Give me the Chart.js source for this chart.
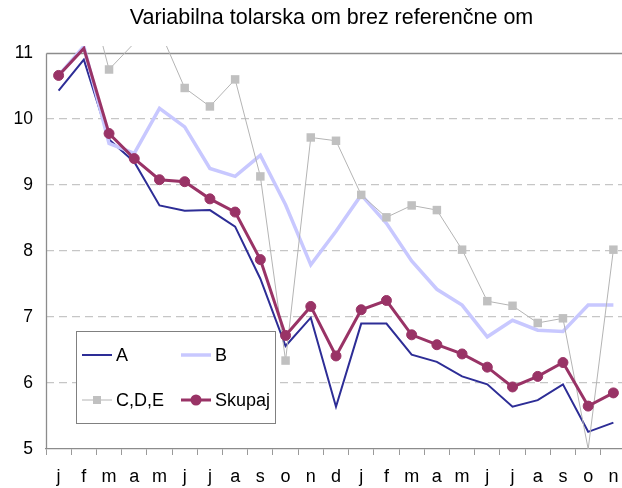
<!DOCTYPE html>
<html>
<head>
<meta charset="utf-8">
<script src="https://cdn.jsdelivr.net/npm/chart.js@4.4.1/dist/chart.umd.min.js"></script>
<style>
  html, body { margin: 0; padding: 0; background: #fff; overflow: hidden; }
  #wrap { position: relative; width: 632px; height: 488px; }
  #title {
    position: absolute; left: 0; top: 5px; width: 663px; text-align: center;
    font: 21.5px "Liberation Sans", Arial, sans-serif; color: #000; white-space: nowrap;
  }
</style>
</head>
<body>
<div id="wrap">
  <div id="title">Variabilna tolarska om brez referenčne om</div>
  <canvas id="chart" width="632" height="488"></canvas>
</div>
<script>
const FONT = '"Liberation Sans", Arial, sans-serif';

// months, two years: jan ... nov of the next year
const months = ["j","f","m","a","m","j","j","a","s","o","n","d","j","f","m","a","m","j","j","a","s","o","n"];
const yTicks = [5, 6, 7, 8, 9, 10, 11];

const serieA   = [10.43, 10.90, 9.69, 9.35, 8.69, 8.61, 8.62, 8.37, 7.58, 6.56, 6.99, 5.64, 6.90, 6.90, 6.43, 6.32, 6.10, 5.98, 5.64, 5.74, 5.98, 5.26, 5.40];
const serieB   = [10.66, 11.10, 9.63, 9.48, 10.16, 9.88, 9.25, 9.13, 9.45, 8.70, 7.79, 8.30, 8.85, 8.42, 7.85, 7.42, 7.18, 6.70, 6.95, 6.80, 6.78, 7.18, 7.18];
const serieCDE = [11.80, 12.22, 10.75, 11.15, 11.35, 10.47, 10.19, 10.60, 9.13, 6.34, 9.72, 9.67, 8.85, 8.51, 8.69, 8.62, 8.02, 7.24, 7.17, 6.91, 6.98, 5.00, 8.02];
const skupaj   = [10.66, 11.07, 9.78, 9.40, 9.08, 9.05, 8.79, 8.59, 7.87, 6.72, 7.16, 6.41, 7.11, 7.25, 6.73, 6.58, 6.44, 6.24, 5.94, 6.10, 6.31, 5.65, 5.85];

const Y_MIN = 5, Y_MAX = 11, Y_TOP = 11.106;

// markers only for values inside the axis range
const markerSize = r => ctx => (ctx.raw > Y_MAX || ctx.raw <= Y_MIN) ? 0 : r;

// solid frame line at 11 plus the left axis line
const frame = {
  id: 'frame',
  beforeDatasetsDraw(chart) {
    const { ctx, chartArea, scales: { y } } = chart;
    const top = Math.round(y.getPixelForValue(Y_MAX)) + 0.5;
    const left = Math.round(chartArea.left) + 0.5;
    ctx.save();
    ctx.strokeStyle = '#8c8c8c';
    ctx.lineWidth = 1.3;
    ctx.beginPath();
    ctx.moveTo(left, top);
    ctx.lineTo(chart.width, top);
    ctx.moveTo(left, top);
    ctx.lineTo(left, chartArea.bottom);
    ctx.stroke();
    ctx.restore();
  }
};

// boxed legend, two columns, inside the plot
const legendBox = {
  id: 'legendBox',
  afterDatasetsDraw(chart) {
    const ctx = chart.ctx;
    const cells = [[82, 355], [181, 355], [82, 400], [181, 400]];
    ctx.save();
    ctx.fillStyle = '#fff';
    ctx.fillRect(76, 331, 199, 92);
    ctx.strokeStyle = '#808080';
    ctx.lineWidth = 1;
    ctx.strokeRect(76.5, 331.5, 199, 92);
    chart.data.datasets.forEach((ds, i) => {
      const [x, y] = cells[i];
      ctx.strokeStyle = ds.borderColor;
      ctx.lineWidth = ds.borderWidth;
      ctx.beginPath();
      ctx.moveTo(x, y);
      ctx.lineTo(x + 30, y);
      ctx.stroke();
      ctx.fillStyle = ds.pointBackgroundColor;
      if (ds.pointStyle === 'rect') {
        ctx.fillRect(x + 11, y - 4, 8, 8);
      } else if (ds.pointStyle === 'circle') {
        ctx.beginPath();
        ctx.arc(x + 15, y, 5.5, 0, Math.PI * 2);
        ctx.fill();
      }
      ctx.fillStyle = '#000';
      ctx.font = '18px ' + FONT;
      ctx.textBaseline = 'middle';
      ctx.fillText(ds.label, x + 34, y + 1);
    });
    ctx.restore();
  }
};

new Chart(document.getElementById('chart'), {
  type: 'line',
  data: {
    labels: months,
    datasets: [{
      label: 'A',
      data: serieA,
      borderColor: '#2d2d96',
      borderWidth: 2,
      pointRadius: 0,
      order: 3
    }, {
      label: 'B',
      data: serieB,
      borderColor: '#c8c8ff',
      borderWidth: 3.5,
      pointRadius: 0,
      order: 2
    }, {
      label: 'C,D,E',
      data: serieCDE,
      borderColor: '#b4b4b4',
      borderWidth: 1,
      pointStyle: 'rect',
      pointRadius: markerSize(6),
      pointBackgroundColor: '#c0c0c0',
      pointBorderColor: '#c0c0c0',
      pointBorderWidth: 0,
      order: 1
    }, {
      label: 'Skupaj',
      data: skupaj,
      borderColor: '#993366',
      borderWidth: 3,
      pointStyle: 'circle',
      pointRadius: markerSize(5),
      pointBackgroundColor: '#993366',
      pointBorderColor: '#993366',
      pointBorderWidth: 1,
      order: 0
    }]
  },
  options: {
    responsive: false,
    animation: false,
    events: [],
    layout: { padding: { top: 46, right: 4, left: 0, bottom: 0 } },
    elements: { line: { tension: 0 } },
    plugins: {
      legend: { display: false },
      title: { display: false },
      tooltip: { enabled: false }
    },
    scales: {
      x: {
        offset: true,
        grid: { offset: true, drawOnChartArea: false, drawTicks: true, tickLength: 6, color: '#9a9a9a', tickColor: '#9a9a9a' },
        border: { display: true, color: '#8c8c8c', width: 1.3 },
        ticks: { color: '#000', font: { size: 18, family: FONT }, padding: 11, maxRotation: 0, autoSkip: false },
        afterFit(scale) { scale.height = 39; }
      },
      y: {
        min: Y_MIN,
        max: Y_TOP,
        afterBuildTicks(scale) { scale.ticks = yTicks.map(v => ({ value: v })); },
        grid: {
          drawTicks: false,
          lineWidth: 1.3,
          color: ctx => (ctx.tick && ctx.tick.value > Y_MIN && ctx.tick.value < Y_MAX) ? '#c6c6c6' : 'rgba(0,0,0,0)'
        },
        border: { display: false, dash: [8, 5] },
        ticks: { color: '#000', font: { size: 17.5, family: FONT }, padding: 13 },
        afterFit(scale) { scale.width = 46; }
      }
    }
  },
  plugins: [frame, legendBox]
});
</script>
</body>
</html>
